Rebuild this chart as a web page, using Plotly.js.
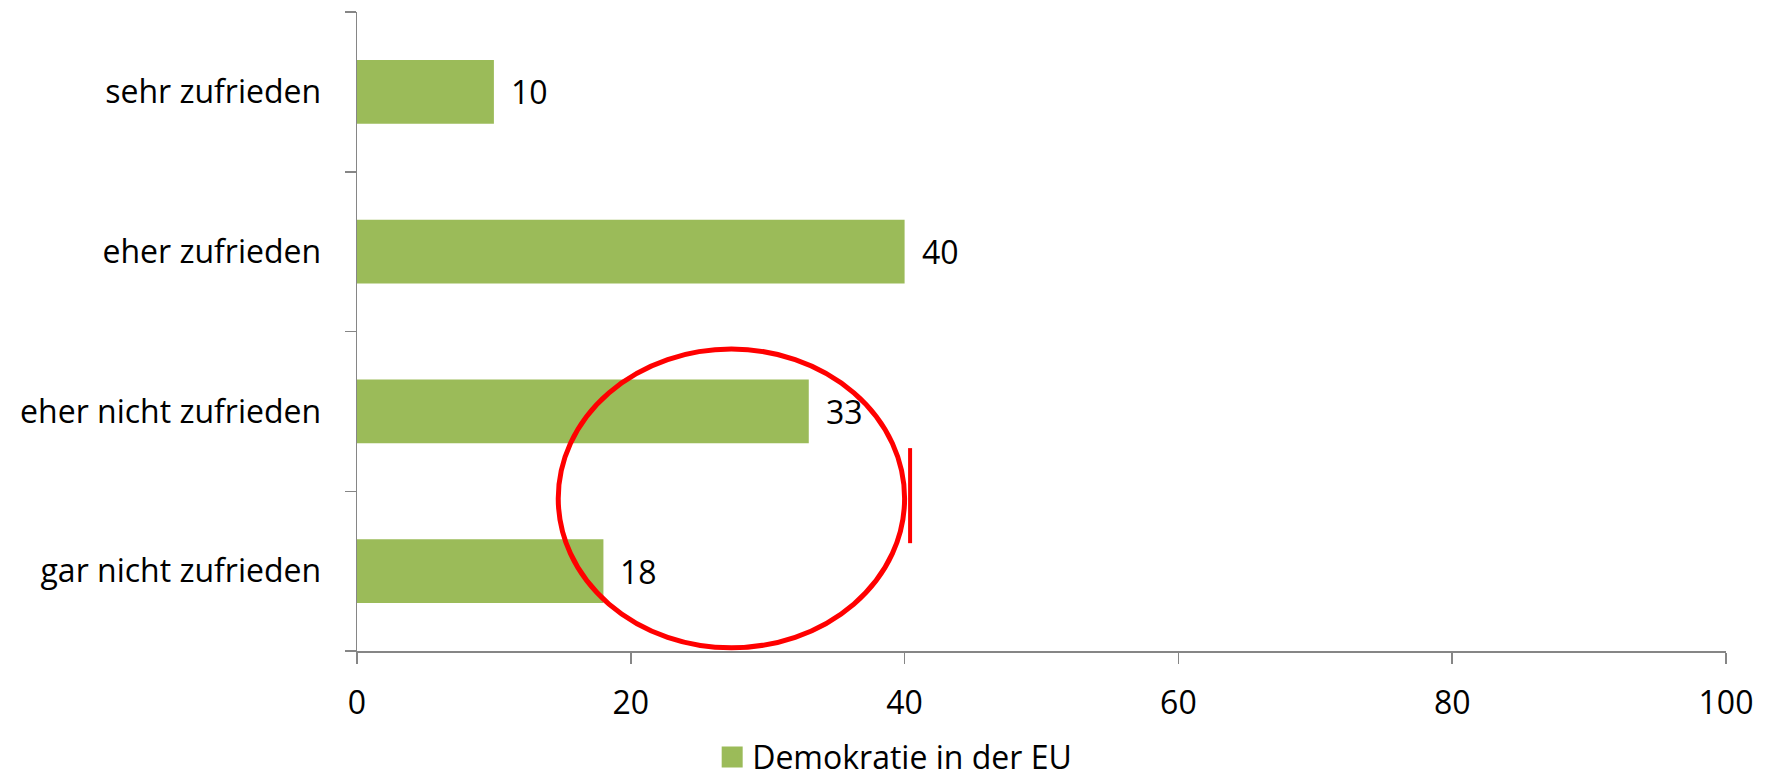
<!DOCTYPE html>
<html>
<head>
<meta charset="utf-8">
<script src="https://cdn.plot.ly/plotly-3.0.1.min.js"></script>
<style>html,body{margin:0;padding:0;background:#fff;}</style>
</head>
<body>
<div id="chart" style="width:1765px;height:783px;"></div>
<script>
// Data
const categories = ['gar nicht zufrieden', 'eher nicht zufrieden', 'eher zufrieden', 'sehr zufrieden'];
const values = [18, 33, 40, 10];
const seriesName = 'Demokratie in der EU';
const xTicks = [0, 20, 40, 60, 80, 100];

const FONT = '"Open Sans", "Liberation Sans", sans-serif';
const GREEN = '#9BBB59';
const AXIS = '#868686';

const bar = {
  type: 'bar',
  orientation: 'h',
  x: values,
  y: categories,
  marker: {color: GREEN},
  showlegend: false,
  hoverinfo: 'skip'
};

const legendTrace = {
  type: 'scatter',
  mode: 'markers',
  x: [null],
  y: [null],
  name: seriesName,
  marker: {symbol: 'square', size: 16, color: GREEN, line: {color: GREEN, width: 5}},
  showlegend: true
};

const annotations = values.map((v, i) => ({
  x: v, y: categories[i], xref: 'x', yref: 'y',
  text: String(v), showarrow: false,
  xanchor: 'left', yanchor: 'middle', xshift: 15,
  font: {family: FONT, size: 32, color: '#000'}
}));

const layout = {
  width: 1765,
  height: 783,
  margin: {l: 357, r: 39, t: 12, b: 132, pad: 0},
  paper_bgcolor: '#fff',
  plot_bgcolor: '#fff',
  font: {family: FONT, size: 32, color: '#000'},
  bargap: 0.6,
  xaxis: {
    range: [0, 100],
    tickvals: xTicks,
    ticktext: xTicks.map(String),
    showline: true, linecolor: AXIS, linewidth: 1.5,
    ticks: 'outside', ticklen: 11, tickcolor: AXIS, tickwidth: 1.5,
    showgrid: false, zeroline: false,
    ticklabelstandoff: 12,
    tickfont: {family: FONT, size: 32, color: '#000'},
    fixedrange: true
  },
  yaxis: {
    type: 'category',
    categoryorder: 'array',
    categoryarray: categories,
    range: [-0.5, 3.5],
    tickson: 'boundaries',
    showline: true, linecolor: AXIS, linewidth: 1.5,
    ticks: 'outside', ticklen: 11, tickcolor: AXIS, tickwidth: 1.5,
    showgrid: false, zeroline: false,
    ticklabelstandoff: 28,
    tickfont: {family: FONT, size: 32, color: '#000'},
    fixedrange: true
  },
  showlegend: true,
  legend: {
    orientation: 'h',
    xref: 'container', yref: 'container',
    x: 0.4035, xanchor: 'left',
    y: 0.033, yanchor: 'middle',
    font: {family: FONT, size: 32, color: '#000'},
    bgcolor: 'rgba(0,0,0,0)'
  },
  annotations: annotations,
  shapes: [
    {type: 'circle', xref: 'x', yref: 'y', x0: 14.7, x1: 40.0, y0: -0.48, y1: 1.39,
     line: {color: '#FF0000', width: 5}},
    {type: 'line', xref: 'x', yref: 'y', x0: 40.4, x1: 40.4, y0: 0.175, y1: 0.77,
     line: {color: '#FF0000', width: 4}}
  ]
};

Plotly.newPlot('chart', [bar, legendTrace], layout, {displayModeBar: false, staticPlot: true});
</script>
</body>
</html>
